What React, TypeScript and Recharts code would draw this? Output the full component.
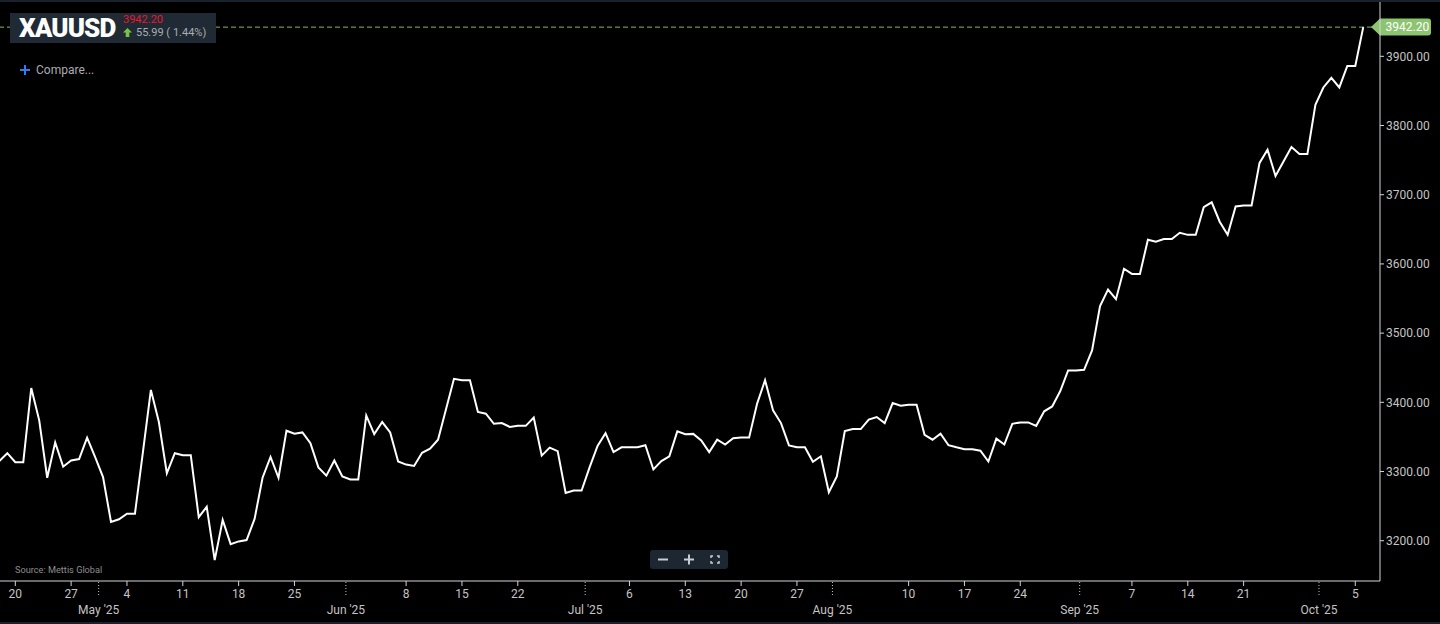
import { Line, LineChart, ReferenceLine, XAxis, YAxis } from "recharts";

const SYMBOL = "XAUUSD";
const CHANGE = 55.99;
const CHANGE_PCT = 1.44;

// daily closes, first point 2025-04-18
const FIRST_DATE = "2025-04-18";
const prices = [
  3315, 3326.5, 3313.5, 3313.5, 3420.7, 3374, 3291, 3342, 3307, 3316,
  3318, 3349, 3321, 3292, 3227, 3231, 3239, 3239, 3328, 3418,
  3371.5, 3297.5, 3326.5, 3323.6, 3323.6, 3234, 3249, 3172, 3230, 3195,
  3199, 3201, 3231.5, 3291, 3321, 3291, 3359, 3354.6, 3356.5, 3341,
  3306, 3294, 3316, 3293, 3288.4, 3288.4, 3381, 3354, 3371.5, 3356.5,
  3314.5, 3310, 3308, 3327, 3333, 3346, 3390, 3434, 3432, 3432,
  3386, 3383.6, 3369, 3370, 3364.5, 3366, 3366, 3378, 3323, 3334.5,
  3329.5, 3269, 3272.5, 3272.5, 3306, 3337, 3355.5, 3328, 3335, 3335,
  3335, 3338, 3303, 3315, 3322, 3358, 3354, 3354.4, 3345, 3328,
  3346, 3339, 3348, 3349, 3349, 3398, 3432, 3388.4, 3370, 3337.7,
  3335, 3335, 3314, 3322, 3270, 3293, 3358.5, 3361.4, 3361.4, 3375,
  3378.7, 3370, 3399, 3395, 3396.6, 3396.6, 3353, 3346, 3354.6, 3338,
  3335, 3332.3, 3332.3, 3330, 3314.5, 3347.5, 3339, 3369, 3371, 3371,
  3366, 3387, 3394, 3416, 3446, 3446, 3447, 3475, 3539, 3563,
  3549, 3593, 3585.5, 3585.5, 3635, 3632, 3636, 3636, 3645, 3642,
  3642, 3682, 3689, 3661, 3642, 3683, 3684.5, 3684.5, 3746, 3765,
  3727, 3748, 3769, 3759, 3759, 3830, 3855, 3869, 3855, 3886,
  3886, 3942.2,
];

const weekDates = [
  "2025-04-20", "2025-04-27", "2025-05-04", "2025-05-11", "2025-05-18", "2025-05-25",
  "2025-06-08", "2025-06-15", "2025-06-22", "2025-07-06", "2025-07-13", "2025-07-20",
  "2025-07-27", "2025-08-10", "2025-08-17", "2025-08-24", "2025-09-07", "2025-09-14",
  "2025-09-21", "2025-10-05",
];
const monthDates = ["2025-05-01", "2025-06-01", "2025-07-01", "2025-08-01", "2025-09-01", "2025-10-01"];
const monthLabels = ["May '25", "Jun '25", "Jul '25", "Aug '25", "Sep '25", "Oct '25"];
const priceTicks = [3200, 3300, 3400, 3500, 3600, 3700, 3800, 3900];

const DAY = 86400000;
const T0 = Date.parse("2025-04-20");
const dayOf = (s: string) => Math.round((Date.parse(s) - T0) / DAY);
const first = dayOf(FIRST_DATE);
const LAST = prices[prices.length - 1];

const data = prices.map((price, i) => ({ day: first + i, price }));

const MONTH_SHIFT = 0.55;
const tickInfo = new Map<number, { label: string; month: boolean }>();
weekDates.forEach((d) => tickInfo.set(dayOf(d), { label: String(new Date(d).getUTCDate()), month: false }));
monthDates.forEach((d, i) => tickInfo.set(dayOf(d) - MONTH_SHIFT, { label: monthLabels[i], month: true }));
const xTicks = Array.from(tickInfo.keys()).sort((a, b) => a - b);

const GREEN = "#8cc470";
const AXIS = "#d4d4d4";
const TEXT = "#c4c4c4";
const FONT = "Roboto, sans-serif";

function DateTick(props: any) {
  const { x, y, payload } = props;
  const info = tickInfo.get(payload.value);
  if (!info) return null;
  if (info.month) {
    return (
      <g>
        <line x1={x} x2={x} y1={y + 1} y2={y + 16} stroke={TEXT} strokeDasharray="1 2" />
        <text x={x} y={y + 29} dy="0.35em" textAnchor="middle" fill={TEXT} fontSize={12} fontFamily={FONT}>
          {info.label}
        </text>
      </g>
    );
  }
  return (
    <g>
      <line x1={x} x2={x} y1={y} y2={y + 5} stroke={AXIS} />
      <text x={x} y={y + 13} dy="0.35em" textAnchor="middle" fill={TEXT} fontSize={12} fontFamily={FONT}>
        {info.label}
      </text>
    </g>
  );
}

function PriceTag(props: any) {
  const vb = props.viewBox ?? {};
  const x = (vb.x ?? 0) + (vb.width ?? 0);
  const y = vb.y ?? 0;
  return (
    <g>
      <path
        d={`M${x - 9},${y} L${x},${y - 8.5} H${x + 48} a3,3 0 0 1 3,3 V${y + 5.5} a3,3 0 0 1 -3,3 H${x} Z`}
        fill={GREEN}
      />
      <text x={x + 5.5} y={y} dy="0.35em" fill="#fff" fontSize={12} fontFamily={FONT}>
        {LAST.toFixed(2)}
      </text>
    </g>
  );
}

export default function App() {
  return (
    <div
      style={{
        position: "absolute",
        left: 0,
        top: 0,
        width: 1440,
        height: 624,
        background: "#000",
        fontFamily: FONT,
        overflow: "hidden",
      }}
    >
      <div style={{ position: "absolute", left: 0, top: 0, width: 1440, height: 2, background: "#19222c" }} />
      <div style={{ position: "absolute", left: 0, bottom: 0, width: 1440, height: 2, background: "#19222c" }} />

      <LineChart width={1440} height={624} data={data} margin={{ top: 2, right: 0, bottom: 0, left: 0 }}>
        <XAxis
          dataKey="day"
          type="number"
          domain={[-1.918, 171.1]}
          allowDataOverflow
          ticks={xTicks}
          interval={0}
          height={43}
          tickSize={0}
          tickMargin={0}
          tickLine={false}
          axisLine={{ stroke: AXIS }}
          tick={<DateTick />}
        />
        <YAxis
          orientation="right"
          type="number"
          domain={[3141.8, 3978.5]}
          allowDataOverflow
          ticks={priceTicks}
          width={60}
          tickSize={4}
          tickMargin={2}
          tickLine={{ stroke: AXIS }}
          axisLine={{ stroke: AXIS }}
          tick={{ fill: TEXT, fontSize: 12, fontFamily: FONT }}
          tickFormatter={(v: number) => v.toFixed(2)}
        />
        <ReferenceLine y={LAST} stroke="#7fbb63" strokeDasharray="5 3" label={<PriceTag />} />
        <Line
          type="linear"
          dataKey="price"
          stroke="#ffffff"
          strokeWidth={2}
          dot={false}
          isAnimationActive={false}
        />
      </LineChart>

      {/* symbol header */}
      <div
        style={{
          position: "absolute",
          left: 10,
          top: 13,
          width: 206,
          height: 30,
          background: "#1f2a34",
        }}
      >
        <div
          style={{
            position: "absolute",
            left: 9,
            top: 0,
            lineHeight: "30px",
            fontSize: 26,
            fontWeight: 900,
            letterSpacing: -0.9,
            color: "#fff",
          }}
        >
          {SYMBOL}
        </div>
        <div style={{ position: "absolute", left: 113, top: 0, fontSize: 11, lineHeight: "13px", color: "#e8182f" }}>
          {LAST.toFixed(2)}
        </div>
        <svg style={{ position: "absolute", left: 113, top: 15 }} width={9} height={9}>
          <path d="M4.5,0 L9,4.5 H6.3 V9 H2.7 V4.5 H0 Z" fill="#7cc242" />
        </svg>
        <div style={{ position: "absolute", left: 126, top: 13, fontSize: 11, lineHeight: "13px", color: "#a9acb2" }}>
          {CHANGE.toFixed(2)} ( {CHANGE_PCT.toFixed(2)}%)
        </div>
      </div>

      {/* compare */}
      <svg style={{ position: "absolute", left: 19, top: 64 }} width={12} height={12}>
        <path d="M6,1 V11 M1,6 H11" stroke="#2f7df6" strokeWidth={2} />
      </svg>
      <div style={{ position: "absolute", left: 36, top: 62, fontSize: 12, lineHeight: "16px", color: "#a9acb2" }}>
        Compare...
      </div>

      <div style={{ position: "absolute", left: 15, top: 564, fontSize: 9.2, lineHeight: "12px", color: "#8e8e8e" }}>
        Source: Mettis Global
      </div>

      {/* zoom controls */}
      <div
        style={{
          position: "absolute",
          left: 650,
          top: 550,
          width: 78,
          height: 19,
          background: "#1c2731",
          borderRadius: 3,
        }}
      >
        <svg width={78} height={19}>
          <path d="M8,9.5 H18 M34,9.5 H44 M39,4.5 V14.5" stroke="#c9ccd0" strokeWidth={2} />
          <path
            d="M61,8 V6 H63 M67,6 H69 V8 M69,11 V13 H67 M63,13 H61 V11"
            stroke="#c9ccd0"
            strokeWidth={1.5}
            fill="none"
          />
        </svg>
      </div>
    </div>
  );
}
